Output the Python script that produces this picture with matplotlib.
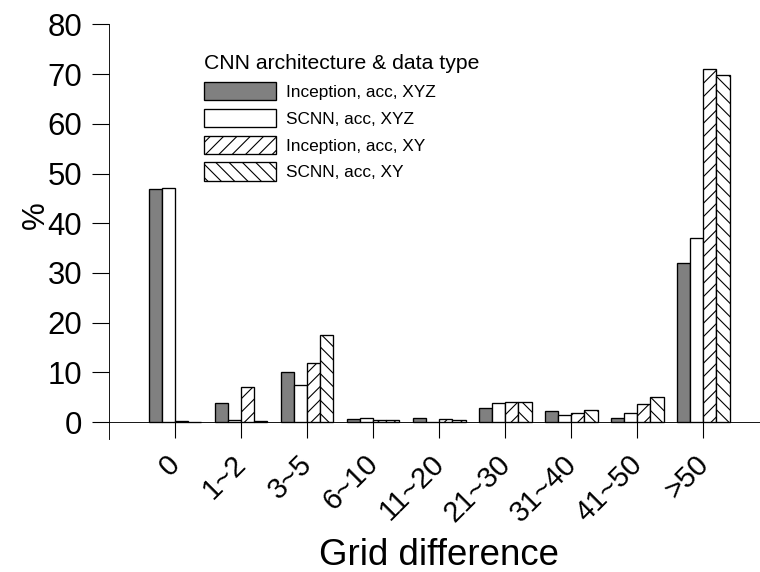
import numpy as np
import matplotlib
matplotlib.use("Agg")
import matplotlib.pyplot as plt
from matplotlib.transforms import ScaledTranslation

# -------------------------------
# Data
# -------------------------------
categories = ["0", "1~2", "3~5", "6~10", "11~20", "21~30", "31~40", "41~50", ">50"]
inception_xyz = [47.0, 3.8, 10.1, 0.7, 0.9, 2.8, 2.3, 0.8, 32.0]
scnn_xyz = [47.1, 0.4, 7.5, 0.9, 0.1, 3.8, 1.4, 1.9, 37.0]
inception_xy = [0.2, 7.0, 11.8, 0.4, 0.6, 4.0, 1.9, 3.7, 71.0]
scnn_xy = [0.1, 0.3, 17.5, 0.5, 0.4, 4.1, 2.5, 5.0, 69.8]

series_labels = ["Inception, acc, XYZ", "SCNN, acc, XYZ",
                 "Inception, acc, XY", "SCNN, acc, XY"]

plt.rcParams["font.family"] = ["Liberation Sans", "DejaVu Sans"]
plt.rcParams["hatch.linewidth"] = 1.0

# -------------------------------
# Figure
# -------------------------------
fig = plt.figure(figsize=(9.5, 7.15), dpi=80)
ax = fig.add_axes([0.1434, 0.2325, 0.8566, 0.7247])

ax.spines["top"].set_visible(False)
ax.spines["right"].set_visible(False)
ax.spines["bottom"].set_position(("data", 0))

x = np.arange(1, len(categories) + 1)
w = 0.2
styles = [
    dict(color="#808080", hatch=None),
    dict(color="white", hatch=None),
    dict(color="white", hatch="//"),
    dict(color="white", hatch="\\\\"),
]
all_series = [inception_xyz, scnn_xyz, inception_xy, scnn_xy]
for i, (vals, st, lab) in enumerate(zip(all_series, styles, series_labels)):
    ax.bar(x + (i - 1.5) * w, vals, width=w, color=st["color"],
           hatch=st["hatch"], edgecolor="black", linewidth=1.2,
           label=lab, zorder=2)

ax.set_xlim(0, 9.86)
ax.set_ylim(-3.4, 80)
ax.set_yticks(np.arange(0, 81, 10))
ax.set_xticks(x)
ax.set_xticklabels(categories)
ax.tick_params(axis="y", labelsize=28, length=15, width=1, direction="out", pad=9)
ax.tick_params(axis="x", labelsize=26, length=14, width=1, direction="out", pad=11)
shift = ScaledTranslation(-9 / 80, 0, fig.dpi_scale_trans)
for lbl in ax.get_xticklabels():
    lbl.set_rotation(45)
    lbl.set_ha("right")
    lbl.set_va("top")
    lbl.set_rotation_mode("anchor")
    lbl.set_transform(lbl.get_transform() + shift)

ax.set_ylabel("%", fontsize=28)
ax.yaxis.set_label_coords(-0.090, 0.54)
fig.text(0.578, 0.012, "Grid difference", fontsize=33, ha="center", va="baseline")

leg = ax.legend(title="CNN architecture & data type", loc="upper left",
                bbox_to_anchor=(0.2566, 0.92), bbox_transform=fig.transFigure,
                frameon=False, fontsize=15.5, title_fontsize=19,
                handlelength=4.2, handleheight=1.25, labelspacing=0.5,
                handletextpad=0.6, borderpad=0, alignment="left")

fig.savefig("out.png", dpi=80)
